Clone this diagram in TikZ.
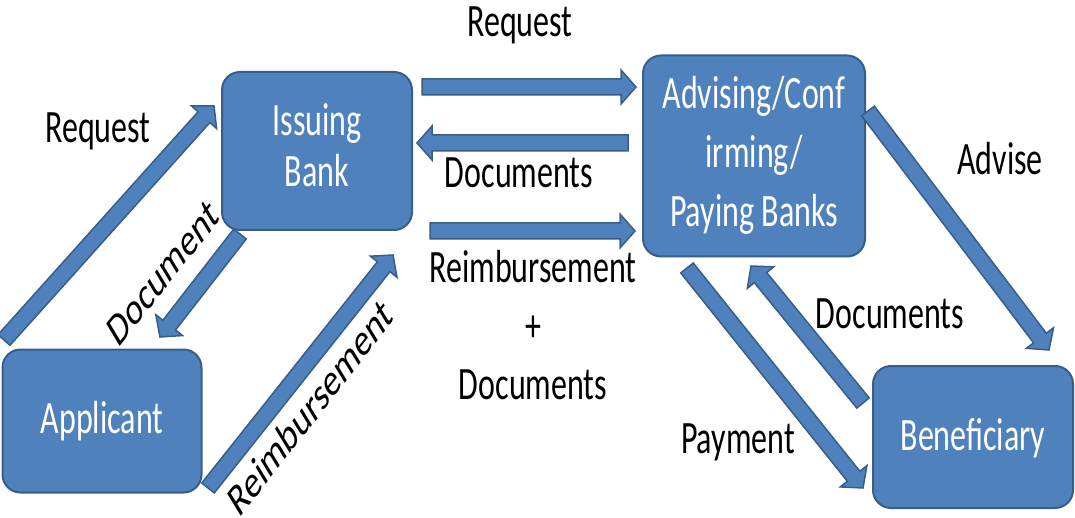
\documentclass[tikz,border=0pt]{standalone}
\usepackage{fontspec}
\setmainfont{Carlito}
\usetikzlibrary{calc}
\definecolor{boxfill}{RGB}{79,129,189}
\definecolor{boxline}{RGB}{56,93,138}
\newcommand\st[2][36]{\scalebox{1}[1.45]{\fontsize{32}{#1}\selectfont
  \begin{tabular}[t]{@{}c@{}}#2\end{tabular}}}
\newcommand\rot[2]{\scalebox{1}[1.45]{\rotatebox{#1}{\fontsize{32}{36}\selectfont #2}}}
\newcommand\fatarrow[2]{%
  \coordinate (fa-base) at ($(#2)!15pt!(#1)$);
  \draw[fat] ($(#1)!8pt!90:(#2)$) -- ($(fa-base)!8pt!-90:(#1)$)
    -- ($(fa-base)!17pt!-90:(#1)$) -- (#2) -- ($(fa-base)!17pt!90:(#1)$)
    -- ($(fa-base)!8pt!90:(#1)$) -- ($(#1)!8pt!-90:(#2)$) -- cycle;}
\tikzset{
  bank/.style={draw=boxline,fill=boxfill,line width=2pt,rounded corners=18pt,
    text=white,inner sep=0pt},
  fat/.style={draw=boxline,fill=boxfill,line width=1.5pt,line join=miter},
  lbl/.style={anchor=base,inner sep=0pt}
}
\begin{document}
\begin{tikzpicture}[x=1pt,y=-1pt]
    \useasboundingbox (0,0) rectangle (1075,518);
    \node[bank,minimum width=190,minimum height=158] (issuing) at (317,151)
      {\st[35]{Issuing\\Bank}};
    \node[bank,minimum width=199,minimum height=143] (applicant) at (102,421)
      {\st[42]{Applicant}};
    \node[bank,minimum width=222,minimum height=201] (advising) at (754,156)
      {\st[40.7]{Advising/Conf\\irming/\\Paying Banks}};
    \node[bank,minimum width=200,minimum height=142] (beneficiary) at (973,437)
      {\st[48]{Beneficiary}};

    \coordinate (req-a) at (4,340);    \coordinate (req-b) at (214,106);
    \coordinate (doc-a) at (240,234);  \coordinate (doc-b) at (160,337);
    \coordinate (reim-a) at (208,488); \coordinate (reim-b) at (393,255);
    \coordinate (top-a) at (422,87);   \coordinate (top-b) at (636,87);
    \coordinate (mid-a) at (628,143);  \coordinate (mid-b) at (417,143);
    \coordinate (low-a) at (430,231);  \coordinate (low-b) at (635,231);
    \coordinate (adv-a) at (868,111);  \coordinate (adv-b) at (1049,350);
    \coordinate (ben-a) at (863,403);  \coordinate (ben-b) at (751,266);
    \coordinate (pay-a) at (687,268);  \coordinate (pay-b) at (863,488);
    \foreach \a in {req,doc,reim,top,mid,low,adv,ben,pay}
      {\fatarrow{\a-a}{\a-b}}

    \node[lbl] (req-top) at (520,37) {\st{Request}};
    \node[lbl] (req-left) at (98,143) {\st{Request}};
    \node[lbl] (docs-mid) at (519,188) {\st{Documents}};
    \node[lbl] (reim-mid) at (533,283) {\st[40.3]{Reimbursement\\+\\Documents}};
    \node[lbl] (advise) at (1000,175) {\st{Advise}};
    \node[lbl] (docs-right) at (890,328) {\st{Documents}};
    \node[lbl] (payment) at (738,453) {\st{Payment}};
    \node[inner sep=0pt] (doc-lbl) at (163,273) {\rot{41}{Document}};
    \node[inner sep=0pt] (reim-lbl) at (310,407) {\rot{41.5}{Reimbursement}};
\end{tikzpicture}
\end{document}
